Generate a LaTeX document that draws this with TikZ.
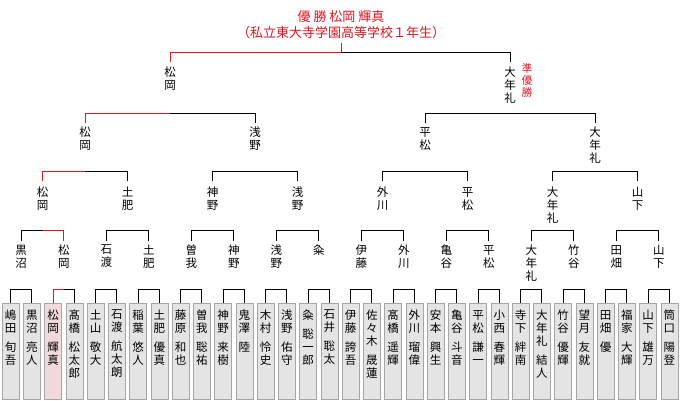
\documentclass[tikz,border=0pt]{standalone}
\usepackage{fontspec}
\setmainfont{Noto Sans CJK JP}
\definecolor{winred}{HTML}{E0141E}
\definecolor{boxgray}{HTML}{E4E4E4}
\definecolor{boxpink}{HTML}{F3DADA}
\begin{document}
\begin{tikzpicture}[x=1pt,y=-1pt,
    bline/.style={line width=0.8pt,black},
    rline/.style={line width=0.8pt,winred},
    vname/.style={anchor=north,inner sep=0pt,align=center,font=\fontsize{11.5}{13}\selectfont},
    pbox/.style={draw=gray!70,fill=boxgray,minimum width=17pt,minimum height=96pt,inner sep=0pt,anchor=north}]
  \useasboundingbox (0,0) rectangle (680,400);
  % title
  \node[text=winred,font=\fontsize{13}{16}\selectfont,align=center] (title) at (341,25)
    {優\ 勝\ 松岡\ 輝真\\（私立東大寺学園高等学校１年生）};
  \node[text=winred,vname,font=\fontsize{10.5}{12}\selectfont] (runner) at (527,63) {準\\優\\勝};
  % brackets: level, y of bar, y of drop end
  \foreach \n/\yb/\yd in {2/52/62,4/113/123,8/171/181,16/230/241,32/289/303}{
    \pgfmathsetmacro\w{680/\n}
    \foreach \i in {0,2,...,\numexpr\n-2\relax}{
      \draw[bline] ({(\i+0.5)*\w},\yd) |- ({(\i+1.5)*\w},\yb) -- ({(\i+1.5)*\w},\yd);
    }
  }
  \draw[rline] (341,43) -- (341,52);
  % winner path
  \draw[rline] (341,52) -| (170,62);
  \draw[rline] (170,113) -| (85,123);
  \draw[rline] (85,171) -| (42.5,181);
  \draw[rline] (42.5,230) -| (63.75,241);
  \draw[rline] (63.75,289) -| (53.1,303);
  % final
  \node[vname] (f1) at (170,67) {松\\岡};
  \node[vname] (f2) at (510,67) {大\\年\\礼};
  % semi
  \foreach \nm [count=\i from 0] in {{松\\岡},{浅\\野},{平\\松},{大\\年\\礼}}
    \node[vname] (s\i) at ({(\i+0.5)*170},127) {\nm};
  % quarter
  \foreach \nm [count=\i from 0] in {{松\\岡},{土\\肥},{神\\野},{浅\\野},{外\\川},{平\\松},{大\\年\\礼},{山\\下}}
    \node[vname] (q\i) at ({(\i+0.5)*85},187) {\nm};
  % second round
  \foreach \nm [count=\i from 0] in {{黒\\沼},{松\\岡},{石\\渡},{土\\肥},{曽\\我},{神\\野},{浅\\野},{粂},
      {伊\\藤},{外\\川},{亀\\谷},{平\\松},{大\\年\\礼},{竹\\谷},{田\\畑},{山\\下}}
    \node[vname] (r\i) at ({(\i+0.5)*42.5},245) {\nm};
  % players
  \foreach \nm [count=\i from 0] in {
      {嶋\\田\\[6pt]旬\\吾},{黒\\沼\\[6pt]亮\\人},{松\\岡\\[6pt]輝\\真},{髙\\橋\\[6pt]松\\太\\郎},
      {土\\山\\[6pt]敬\\大},{石\\渡\\[6pt]航\\太\\朗},{稲\\葉\\[6pt]悠\\人},{土\\肥\\[6pt]優\\真},
      {藤\\原\\[6pt]和\\也},{曽\\我\\[6pt]聡\\祐},{神\\野\\[6pt]来\\樹},{鬼\\澤\\[6pt]陸},
      {木\\村\\[6pt]怜\\史},{浅\\野\\[6pt]佑\\守},{粂\\[6pt]聡\\一\\郎},{石\\井\\[6pt]聡\\太},
      {伊\\藤\\[6pt]誇\\吾},{佐\\々\\木\\[6pt]晟\\蓮},{髙\\橋\\[6pt]遥\\輝},{外\\川\\[6pt]瑠\\偉},
      {安\\本\\[6pt]興\\生},{亀\\谷\\[6pt]斗\\音},{平\\松\\[6pt]謙\\一},{小\\西\\[6pt]春\\輝},
      {寺\\下\\[6pt]絆\\南},{大\\年\\礼\\[6pt]結\\人},{竹\\谷\\[6pt]優\\輝},{望\\月\\[6pt]友\\就},
      {田\\畑\\[6pt]優},{福\\家\\[6pt]大\\輝},{山\\下\\[6pt]雄\\万},{筒\\口\\[6pt]陽\\登}}{
    \node[pbox] (p\i) at ({(\i+0.5)*21.25},303) {};
    \node[vname] (n\i) at ({(\i+0.5)*21.25},310) {\nm};
  }
  \node[pbox,fill=boxpink] at (p2.north) {};
  \node[vname] at (n2.north) {松\\岡\\[6pt]輝\\真};
\end{tikzpicture}
\end{document}
